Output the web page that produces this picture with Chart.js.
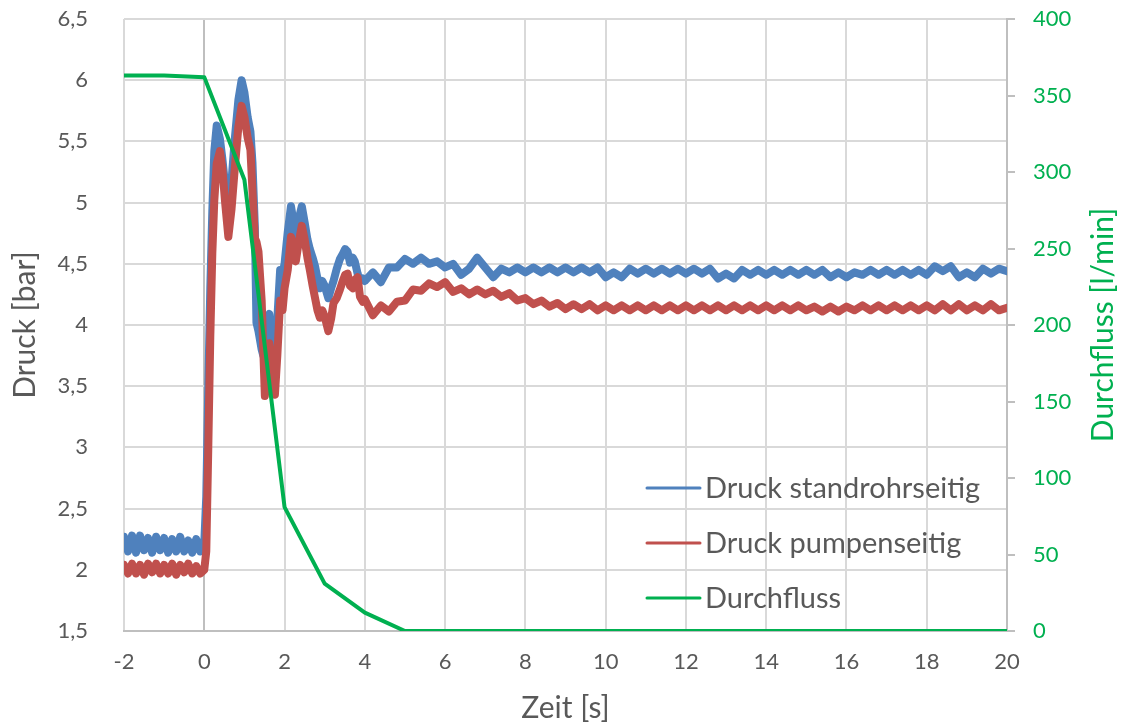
<!DOCTYPE html>
<html lang="de">
<head>
<meta charset="utf-8">
<title>Druck und Durchfluss</title>
<script src="https://cdn.jsdelivr.net/npm/chart.js@4.4.1/dist/chart.umd.min.js"></script>
<style>
  html, body { margin: 0; padding: 0; background: #ffffff; }
  #diagramm { display: block; }
</style>
</head>
<body>
<canvas id="diagramm" width="1121" height="726"></canvas>
<script>
// --- MESSDATEN ---
// Zeitachse der Drucksensoren [s]
const zeit = [
  -2.0, -1.9, -1.8, -1.7, -1.6, -1.5, -1.4, -1.3, -1.2, -1.1,
  -1.0, -0.9, -0.8, -0.7, -0.6, -0.5, -0.4, -0.3, -0.2, -0.1,
  0.0, 0.05, 0.1, 0.15, 0.2, 0.25, 0.31, 0.39, 0.45, 0.52,
  0.6, 0.68, 0.76, 0.85, 0.93, 1.0, 1.08, 1.15, 1.2, 1.26,
  1.3, 1.35, 1.43, 1.47, 1.51, 1.57, 1.62, 1.68, 1.72, 1.76,
  1.82, 1.89, 1.95, 2.0, 2.08, 2.16, 2.22, 2.28, 2.35, 2.43,
  2.5, 2.57, 2.63, 2.7, 2.76, 2.82, 2.88, 2.94, 3.0, 3.09,
  3.16, 3.22, 3.3, 3.38, 3.45, 3.51, 3.57, 3.63, 3.7, 3.75,
  3.82, 3.88, 3.95,
  4.0, 4.2, 4.4, 4.6, 4.8, 5.0, 5.2, 5.4, 5.6, 5.8,
  6.0, 6.2, 6.4, 6.6, 6.8, 7.0, 7.2, 7.4, 7.6, 7.8,
  8.0, 8.2, 8.4, 8.6, 8.8, 9.0, 9.2, 9.4, 9.6, 9.8,
  10.0, 10.2, 10.4, 10.6, 10.8, 11.0, 11.2, 11.4, 11.6, 11.8,
  12.0, 12.2, 12.4, 12.6, 12.8, 13.0, 13.2, 13.4, 13.6, 13.8,
  14.0, 14.2, 14.4, 14.6, 14.8, 15.0, 15.2, 15.4, 15.6, 15.8,
  16.0, 16.2, 16.4, 16.6, 16.8, 17.0, 17.2, 17.4, 17.6, 17.8,
  18.0, 18.2, 18.4, 18.6, 18.8, 19.0, 19.2, 19.4, 19.6, 19.8,
  20.0
];

// Druck standrohrseitig [bar]
const druckStandrohr = [
  2.27, 2.15, 2.28, 2.14, 2.28, 2.16, 2.26, 2.14, 2.27, 2.16,
  2.26, 2.14, 2.25, 2.15, 2.27, 2.15, 2.24, 2.14, 2.25, 2.15,
  2.22, 2.6, 3.5, 4.3, 4.93, 5.42, 5.63, 5.52, 5.36, 5.14,
  4.95, 5.18, 5.52, 5.84, 6.0, 5.9, 5.7, 5.58, 5.33, 4.8,
  4.02, 3.95, 3.8, 3.75, 3.9, 4.06, 4.09, 3.85, 3.6, 3.7,
  4.05, 4.45, 4.42, 4.5, 4.76, 4.97, 4.85, 4.73, 4.86, 4.97,
  4.84, 4.7, 4.62, 4.55, 4.48, 4.38, 4.3, 4.36, 4.32, 4.22,
  4.3, 4.36, 4.46, 4.54, 4.58, 4.62, 4.6, 4.51, 4.55, 4.52,
  4.42, 4.36, 4.38,
  4.36, 4.43, 4.35, 4.47, 4.47, 4.54, 4.50, 4.55, 4.50, 4.52,
  4.47, 4.50, 4.41, 4.46, 4.55, 4.47, 4.39, 4.46, 4.43, 4.47,
  4.43, 4.47, 4.43, 4.47, 4.43, 4.47, 4.43, 4.47, 4.43, 4.47,
  4.39, 4.43, 4.39, 4.46, 4.42, 4.46, 4.42, 4.46, 4.42, 4.46,
  4.42, 4.46, 4.42, 4.46, 4.38, 4.42, 4.38, 4.45, 4.41, 4.45,
  4.41, 4.45, 4.41, 4.45, 4.41, 4.45, 4.41, 4.45, 4.39, 4.43,
  4.39, 4.43, 4.41, 4.45, 4.41, 4.45, 4.41, 4.45, 4.41, 4.45,
  4.41, 4.48, 4.44, 4.48, 4.39, 4.43, 4.39, 4.46, 4.42, 4.46,
  4.44
];

// Druck pumpenseitig [bar]
const druckPumpe = [
  2.04, 1.97, 2.05, 1.97, 2.04, 1.96, 2.05, 1.98, 2.05, 1.97,
  2.04, 1.97, 2.05, 1.96, 2.04, 1.98, 2.05, 1.97, 2.03, 1.97,
  2.0, 2.15, 3.0, 3.9, 4.58, 5.02, 5.32, 5.42, 5.28, 5.0,
  4.72, 4.95, 5.28, 5.62, 5.79, 5.7, 5.53, 5.43, 5.1, 4.71,
  4.68, 4.6, 4.2, 3.8, 3.42, 3.66, 3.85, 3.7, 3.55, 3.43,
  3.75, 4.2, 4.12, 4.3, 4.45, 4.72, 4.62, 4.52, 4.67, 4.81,
  4.7, 4.55, 4.45, 4.32, 4.22, 4.12, 4.06, 4.12, 4.07, 3.95,
  4.05, 4.18, 4.22, 4.29, 4.36, 4.41, 4.42, 4.32, 4.3, 4.37,
  4.39, 4.23, 4.19,
  4.21, 4.08, 4.16, 4.11, 4.19, 4.20, 4.29, 4.28, 4.34, 4.31,
  4.35, 4.27, 4.30, 4.25, 4.29, 4.25, 4.28, 4.23, 4.26, 4.20,
  4.22, 4.17, 4.20, 4.15, 4.18, 4.13, 4.17, 4.13, 4.17, 4.12,
  4.16, 4.12, 4.16, 4.12, 4.16, 4.12, 4.16, 4.12, 4.16, 4.12,
  4.16, 4.12, 4.16, 4.12, 4.16, 4.12, 4.16, 4.12, 4.16, 4.12,
  4.16, 4.12, 4.16, 4.12, 4.16, 4.12, 4.15, 4.11, 4.15, 4.11,
  4.15, 4.12, 4.16, 4.12, 4.16, 4.12, 4.16, 4.12, 4.16, 4.12,
  4.16, 4.12, 4.17, 4.12, 4.17, 4.12, 4.16, 4.12, 4.17, 4.12,
  4.14
];

// Durchfluss [l/min], sekündlich
const zeitDurchfluss = [-2, -1, 0, 1, 2, 3, 4, 5, 6, 7, 8, 9, 10, 11, 12, 13, 14, 15, 16, 17, 18, 19, 20];
const durchfluss = [363, 363, 362, 295, 81, 31, 12, 0, 0, 0, 0, 0, 0, 0, 0, 0, 0, 0, 0, 0, 0, 0, 0];

// --- HILFSFUNKTIONEN ---
const schrift = 'Lato, "Open Sans", sans-serif';
const grauText = '#595959';
const gruen = '#00b050';

// Dezimalkomma wie in Excel
function formatDe(wert) {
  return String(Math.round(wert * 100) / 100).replace('.', ',');
}

function alsPunkte(xs, ys) {
  return xs.map((x, i) => ({ x: x, y: ys[i] }));
}

// vertikale Achsen: kein zusätzlicher Rand oben/unten durch das Tick-Padding
function festeBreite(breite) {
  return s => {
    s.width = breite;
    s.paddingTop = 0;
    s.paddingBottom = 0;
  };
}

// --- LEGENDE INNERHALB DER ZEICHENFLÄCHE ---
const legendePlugin = {
  id: 'legendeImDiagramm',
  afterDatasetsDraw(chart, args, opts) {
    const ctx = chart.ctx;
    ctx.save();
    ctx.font = opts.font;
    ctx.textBaseline = 'middle';
    ctx.textAlign = 'left';
    chart.data.datasets.forEach((ds, i) => {
      const y = opts.y + i * opts.zeilenAbstand;
      ctx.strokeStyle = ds.borderColor;
      ctx.lineWidth = 3;
      ctx.lineCap = 'round';
      ctx.beginPath();
      ctx.moveTo(opts.x, y);
      ctx.lineTo(opts.x + opts.linienLaenge, y);
      ctx.stroke();
      ctx.fillStyle = grauText;
      ctx.fillText(ds.label, opts.x + opts.linienLaenge + 5, y + 1);
    });
    ctx.restore();
  }
};

// Titel der rechten Achse von unten nach oben lesbar (wie links)
const rechterTitelPlugin = {
  id: 'rechterAchsenTitel',
  afterDraw(chart, args, opts) {
    const ctx = chart.ctx;
    const area = chart.chartArea;
    ctx.save();
    ctx.translate(opts.x, (area.top + area.bottom) / 2);
    ctx.rotate(-Math.PI / 2);
    ctx.font = opts.font;
    ctx.fillStyle = gruen;
    ctx.textAlign = 'center';
    ctx.textBaseline = 'middle';
    ctx.fillText(opts.text, 0, 0);
    ctx.restore();
  }
};

// --- DIAGRAMM ---
const ctx = document.getElementById('diagramm').getContext('2d');
const diagramm = new Chart(ctx, {
  type: 'line',
  data: {
    datasets: [
      {
        label: 'Druck standrohrseitig',
        data: alsPunkte(zeit, druckStandrohr),
        borderColor: '#4f81bd',
        borderWidth: 8,
        yAxisID: 'y',
        order: 2
      },
      {
        label: 'Druck pumpenseitig',
        data: alsPunkte(zeit, druckPumpe),
        borderColor: '#c0504d',
        borderWidth: 8,
        yAxisID: 'y',
        order: 1
      },
      {
        label: 'Durchfluss',
        data: alsPunkte(zeitDurchfluss, durchfluss),
        borderColor: gruen,
        borderWidth: 4,
        yAxisID: 'y1',
        order: 0
      }
    ]
  },
  options: {
    responsive: false,
    devicePixelRatio: 1,
    animation: false,
    events: [],
    layout: { padding: { top: 19, right: 0, bottom: 0, left: 0 }, autoPadding: false },
    elements: {
      point: { radius: 0 },
      line: { tension: 0, borderJoinStyle: 'round', borderCapStyle: 'round', fill: false }
    },
    plugins: {
      legend: { display: false },
      tooltip: { enabled: false },
      legendeImDiagramm: {
        x: 647, y: 488, zeilenAbstand: 55, linienLaenge: 53,
        font: '29px ' + schrift
      },
      rechterAchsenTitel: {
        x: 1103, text: 'Durchfluss [l/min]',
        font: '30px ' + schrift
      }
    },
    scales: {
      x: {
        type: 'linear',
        min: -2,
        max: 20,
        ticks: {
          stepSize: 2,
          color: grauText,
          padding: 18,
          font: { family: schrift, size: 22 },
          callback: v => formatDe(v)
        },
        grid: {
          color: c => (c.tick && c.tick.value === 0 ? '#bfbfbf' : '#d9d9d9'),
          lineWidth: 2,
          drawTicks: false
        },
        border: { display: true, color: '#bfbfbf', width: 2 },
        title: {
          display: true,
          text: 'Zeit [s]',
          color: grauText,
          font: { family: schrift, size: 30 },
          padding: { top: 0, bottom: 0 }
        },
        afterFit: s => { s.height = 95; }
      },
      y: {
        position: 'left',
        min: 1.5,
        max: 6.5,
        ticks: {
          stepSize: 0.5,
          color: grauText,
          padding: 36,
          font: { family: schrift, size: 22 },
          callback: v => formatDe(v)
        },
        grid: { color: '#d9d9d9', lineWidth: 2, drawTicks: false },
        border: { display: false },
        title: {
          display: true,
          text: 'Druck [bar]',
          color: grauText,
          font: { family: schrift, size: 30 },
          padding: { top: 7, bottom: 0 }
        },
        afterFit: festeBreite(124)
      },
      y1: {
        position: 'right',
        min: 0,
        max: 400,
        ticks: {
          stepSize: 50,
          color: gruen,
          padding: 18,
          font: { family: schrift, size: 22 }
        },
        grid: { drawOnChartArea: false, drawTicks: true, tickLength: 8, tickColor: '#bfbfbf', lineWidth: 2 },
        border: { display: true, color: '#bfbfbf', width: 2 },
        afterFit: festeBreite(114)
      }
    }
  },
  plugins: [legendePlugin, rechterTitelPlugin]
});
</script>
</body>
</html>
